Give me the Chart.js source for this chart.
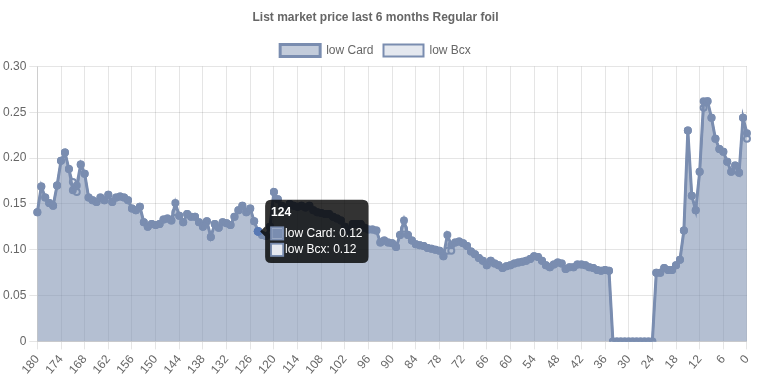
<!DOCTYPE html>
<html>
<head>
<meta charset="utf-8">
<script src="https://cdn.jsdelivr.net/npm/chart.js@4/dist/chart.umd.min.js"></script>
<style>
  html, body { margin: 0; padding: 0; background: #fff; }
  #wrap { width: 761px; height: 380px; position: relative; }
</style>
</head>
<body>
<div id="wrap"><canvas id="c"></canvas></div>
<script>
const chartTitle = "List market price last 6 months Regular foil";
const seriesNames = ["low Card", "low Bcx"];
const dayLabels = ["180","179","178","177","176","175","174","173","172","171","170","169","168","167","166","165","164","163","162","161","160","159","158","157","156","155","154","153","152","151","150","149","148","147","146","145","144","143","142","141","140","139","138","137","136","135","134","133","132","131","130","129","128","127","126","125","124","123","122","121","120","119","118","117","116","115","114","113","112","111","110","109","108","107","106","105","104","103","102","101","100","99","98","97","96","95","94","93","92","91","90","89","88","87","86","85","84","83","82","81","80","79","78","77","76","75","74","73","72","71","70","69","68","67","66","65","64","63","62","61","60","59","58","57","56","55","54","53","52","51","50","49","48","47","46","45","44","43","42","41","40","39","38","37","36","35","34","33","32","31","30","29","28","27","26","25","24","23","22","21","20","19","18","17","16","15","14","13","12","11","10","9","8","7","6","5","4","3","2","1","0"];
const lowCard = [
  0.141,0.169,0.157,0.151,0.148,0.170,0.197,0.206,0.188,0.165,
  0.170,0.193,0.183,0.157,0.154,0.152,0.157,0.154,0.160,0.152,
  0.157,0.158,0.157,0.154,0.145,0.143,0.147,0.130,0.125,0.128,
  0.127,0.128,0.133,0.134,0.132,0.151,0.137,0.130,0.139,0.136,
  0.136,0.130,0.125,0.131,0.114,0.128,0.124,0.130,0.129,0.127,
  0.136,0.143,0.148,0.141,0.145,0.131,0.12,0.116,0.115,0.125,
  0.163,0.155,0.148,0.145,0.150,0.148,0.147,0.148,0.146,0.148,
  0.143,0.141,0.140,0.139,0.139,0.136,0.134,0.132,0.125,0.121,
  0.128,0.128,0.128,0.124,0.122,0.122,0.121,0.108,0.110,0.108,
  0.107,0.103,0.116,0.132,0.116,0.110,0.106,0.105,0.104,0.102,
  0.101,0.100,0.099,0.093,0.116,0.105,0.108,0.109,0.107,0.104,
  0.098,0.095,0.091,0.088,0.083,0.088,0.085,0.083,0.080,0.082,
  0.083,0.085,0.086,0.087,0.088,0.090,0.093,0.092,0.088,0.083,
  0.081,0.084,0.086,0.085,0.079,0.081,0.081,0.084,0.084,0.083,
  0.081,0.080,0.078,0.077,0.078,0.077,0,0,0,0,
  0,0,0,0,0,0,0,0.075,0.075,0.080,
  0.078,0.078,0.083,0.089,0.121,0.230,0.159,0.143,0.185,0.262,
  0.262,0.244,0.221,0.210,0.207,0.196,0.185,0.192,0.184,0.244,
  0.227
];
const lowBcx = [
  0.141,0.169,0.157,0.151,0.148,0.170,0.197,0.206,0.188,0.174,
  0.163,0.193,0.183,0.157,0.154,0.152,0.157,0.154,0.160,0.152,
  0.157,0.158,0.157,0.154,0.145,0.143,0.147,0.130,0.125,0.128,
  0.127,0.128,0.133,0.134,0.132,0.141,0.137,0.130,0.139,0.136,
  0.136,0.130,0.125,0.131,0.114,0.128,0.124,0.130,0.129,0.127,
  0.136,0.143,0.148,0.141,0.145,0.131,0.12,0.116,0.115,0.125,
  0.163,0.155,0.148,0.145,0.150,0.148,0.147,0.148,0.146,0.148,
  0.143,0.141,0.140,0.139,0.139,0.136,0.134,0.132,0.125,0.121,
  0.128,0.128,0.128,0.124,0.122,0.122,0.121,0.108,0.110,0.108,
  0.107,0.103,0.116,0.123,0.116,0.110,0.106,0.105,0.104,0.102,
  0.101,0.100,0.099,0.093,0.099,0.099,0.108,0.109,0.107,0.104,
  0.098,0.095,0.091,0.088,0.083,0.088,0.085,0.083,0.080,0.082,
  0.083,0.085,0.086,0.087,0.088,0.090,0.093,0.092,0.088,0.083,
  0.081,0.084,0.086,0.085,0.079,0.081,0.081,0.084,0.084,0.083,
  0.081,0.080,0.078,0.077,0.078,0.077,0,0,0,0,
  0,0,0,0,0,0,0,0.075,0.075,0.080,
  0.078,0.078,0.083,0.089,0.121,0.230,0.159,0.143,0.185,0.255,
  0.262,0.244,0.221,0.210,0.207,0.196,0.185,0.192,0.184,0.244,
  0.221
];
const yTicks = [0, 0.05, 0.10, 0.15, 0.20, 0.25, 0.30];
const tooltipIndex = 56;

const lineColor = 'rgb(122,141,176)';

const chart = new Chart(document.getElementById('c'), {
  type: 'line',
  data: {
    labels: dayLabels,
    datasets: [
      {
        label: seriesNames[0],
        data: lowCard,
        borderColor: lineColor,
        backgroundColor: 'rgba(122,141,176,0.45)',
        borderWidth: 3,
        pointRadius: 3,
        pointBorderWidth: 2,
        pointBackgroundColor: lineColor,
        pointBorderColor: lineColor,
        fill: 'origin',
        tension: 0
      },
      {
        label: seriesNames[1],
        data: lowBcx,
        borderColor: lineColor,
        backgroundColor: 'rgba(122,141,176,0.2)',
        borderWidth: 2,
        pointRadius: 3,
        pointBorderWidth: 2,
        pointBackgroundColor: 'rgba(230,233,240,1)',
        pointBorderColor: lineColor,
        fill: 'origin',
        tension: 0
      }
    ]
  },
  options: {
    responsive: true,
    maintainAspectRatio: false,
    animation: false,
    layout: { padding: { right: 10 } },
    interaction: { mode: 'index', intersect: false },
    plugins: {
      title: {
        display: true,
        text: chartTitle,
        color: '#666',
        font: { size: 12, weight: 'bold' },
        padding: { top: 10, bottom: 10 }
      },
      legend: {
        labels: { color: '#666', boxWidth: 40, font: { size: 12 } }
      },
      tooltip: {
        enabled: true
      }
    },
    scales: {
      x: {
        ticks: {
          color: '#666',
          autoSkip: true,
          maxTicksLimit: 31,
          maxRotation: 50,
          minRotation: 50,
          font: { size: 12 }
        },
        grid: { color: 'rgba(0,0,0,0.1)' }
      },
      y: {
        min: 0,
        max: 0.3,
        ticks: {
          color: '#666',
          stepSize: 0.05,
          font: { size: 12 },
          callback: function (v) {
            const t = yTicks.find(x => Math.abs(x - v) < 1e-9);
            if (t === undefined) return '';
            return t === 0 ? '0' : t.toFixed(2);
          }
        },
        grid: { color: 'rgba(0,0,0,0.1)' }
      }
    }
  }
});

const act = [{ datasetIndex: 0, index: tooltipIndex }, { datasetIndex: 1, index: tooltipIndex }];
const pt = chart.getDatasetMeta(0).data[tooltipIndex];
chart.setActiveElements(act);
chart.tooltip.setActiveElements(act, { x: pt.x, y: pt.y });
chart.update();
</script>
</body>
</html>
